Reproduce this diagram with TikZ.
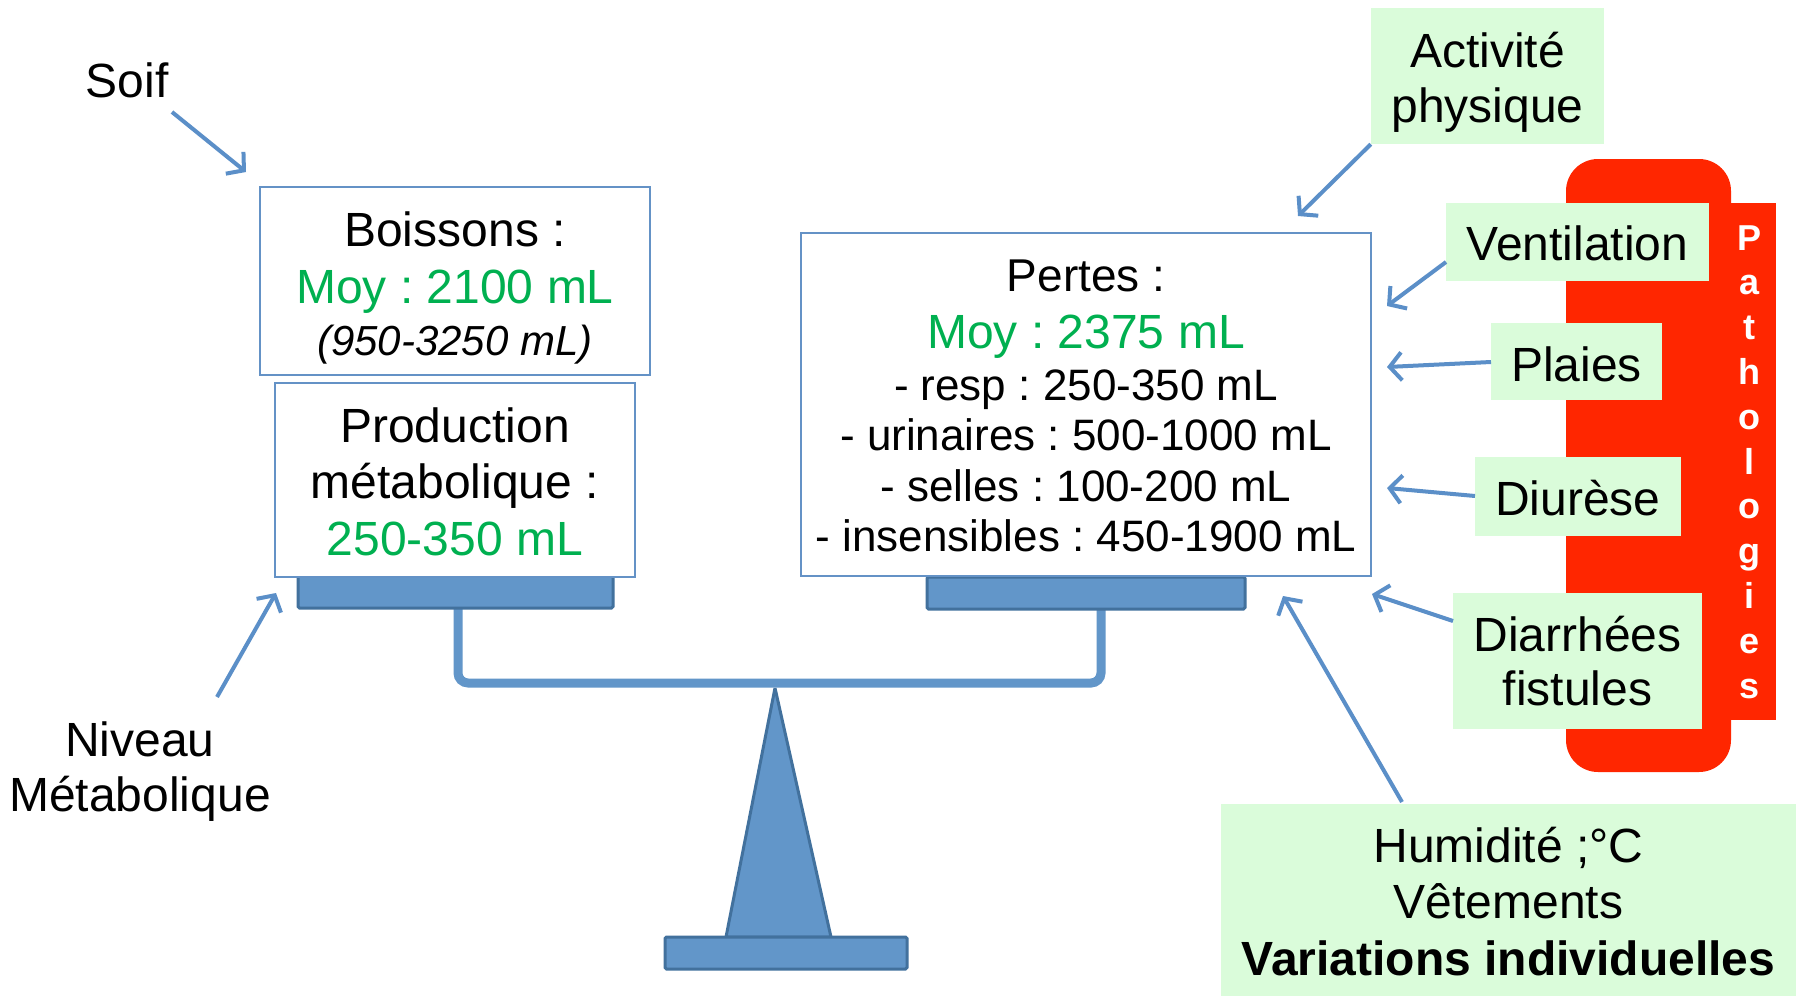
\documentclass[tikz,border=0pt]{standalone}
\usepackage{fontspec}
\setmainfont{Liberation Sans}
\usetikzlibrary{arrows.meta}
\definecolor{arrblue}{RGB}{91,143,200}
\definecolor{boxblue}{RGB}{100,146,198}
\definecolor{panfill}{RGB}{98,150,201}
\definecolor{pandraw}{RGB}{66,113,157}
\definecolor{lgreen}{RGB}{218,252,218}
\definecolor{tgreen}{RGB}{0,176,80}
\definecolor{pred}{RGB}{255,38,0}
\frenchspacing
\begin{document}
\begin{tikzpicture}[x=1pt,y=-1pt,
  box/.style={draw=boxblue,line width=1.8pt,fill=white,inner sep=0pt},
  gbox/.style={fill=lgreen,inner sep=0pt},
  redbox/.style={fill=pred,inner sep=0pt},
  pan/.style={fill=panfill,draw=pandraw,line width=3pt,inner sep=0pt,rounded corners=1.5pt},
  beam/.style={draw=panfill,line width=9pt,rounded corners=10pt},
  txt/.style={anchor=base,inner sep=0pt,font=\fontsize{48}{56}\selectfont},
  htxt/.style={anchor=base,inner sep=0pt,font=\fontsize{46}{52}\selectfont},
  stxt/.style={anchor=base,inner sep=0pt,font=\fontsize{44}{50}\selectfont},
  itxt/.style={anchor=base,inner sep=0pt,font=\fontsize{42}{50}\selectfont\itshape},
  ptxt/.style={anchor=base,inner sep=0pt,text=white,font=\fontsize{36}{40}\selectfont\bfseries},
  arr/.style={draw=arrblue,line width=4pt,-{Straight Barb[length=12pt,width=28pt]}}
]
\useasboundingbox (0,0) rectangle (1796,996);
\fill[white] (0,0) rectangle (1796,996);

% ---- balance ----
\draw[beam] (458,606) -- (458,683) -- (1101,683) -- (1101,606);
\draw[pan] (775,688) -- (831,937) -- (726,937) -- cycle;
\node[pan,minimum width=242pt,minimum height=32pt] (base) at (786,953) {};
\node[pan,minimum width=315pt,minimum height=32pt] (lpan) at (455.5,592) {};
\node[pan,minimum width=318pt,minimum height=32pt] (rpan) at (1086,593) {};

% ---- left boxes ----
\node[box,minimum width=390pt,minimum height=188pt] (boiss) at (455,281) {};
\node[txt] (b1) at (455,246) {Boissons :};
\node[txt,text=tgreen] (b2) at (455,303) {Moy : 2100 mL};
\node[itxt] (b3) at (455,355) {(950-3250 mL)};

\node[box,minimum width=360pt,minimum height=194pt] (prod) at (455,480) {};
\node[txt] (p1) at (455,442) {Production};
\node[txt] (p2) at (455,498) {métabolique :};
\node[txt,text=tgreen] (p3) at (455,555) {250-350 mL};

% ---- right box ----
\node[box,minimum width=570pt,minimum height=343pt] (pertes) at (1086,404.5) {};
\node[htxt] (r1) at (1086,291) {Pertes :};
\node[txt,text=tgreen] (r2) at (1086,348) {Moy : 2375 mL};
\node[stxt] (r3) at (1086,400) {- resp : 250-350 mL};
\node[stxt] (r4) at (1086,450.5) {- urinaires : 500-1000 mL};
\node[stxt] (r5) at (1086,501) {- selles : 100-200 mL};
\node[stxt] (r6) at (1086,551.5) {- insensibles : 450-1900 mL};

% ---- left labels ----
\node[txt] (soif) at (127,97) {Soif};
\node[txt] (niv1) at (140,756) {Niveau};
\node[txt] (niv2) at (140,811) {Métabolique};

% ---- pathologies ----
\node[redbox,rounded corners=32pt,minimum width=165pt,minimum height=613pt] (redr) at (1648.5,465.5) {};
\node[redbox,minimum width=66pt,minimum height=517pt] (reds) at (1743,461.5) {};
\foreach \l [count=\i from 0] in {P,a,t,h,o,l,o,g,i,e,s}
  \node[ptxt] (pl\i) at (1749,250+44.8*\i) {\l};

% ---- green boxes ----
\node[gbox,minimum width=233pt,minimum height=136pt] (act) at (1487.5,76) {};
\node[txt] (act1) at (1487.5,67) {Activité};
\node[txt] (act2) at (1487.5,122) {physique};

\node[gbox,minimum width=263pt,minimum height=78pt] (vent) at (1577.5,242) {};
\node[txt] (vent1) at (1577.5,260) {Ventilation};

\node[gbox,minimum width=171pt,minimum height=77pt] (plaies) at (1576.5,361.5) {};
\node[txt] (plaies1) at (1576.5,381) {Plaies};

\node[gbox,minimum width=206pt,minimum height=79pt] (diur) at (1578,496.5) {};
\node[txt] (diur1) at (1578,515) {Diurèse};

\node[gbox,minimum width=249pt,minimum height=136pt] (diar) at (1577.5,661) {};
\node[txt] (diar1) at (1577.5,651) {Diarrhées};
\node[txt] (diar2) at (1577.5,705) {fistules};

\node[gbox,minimum width=575pt,minimum height=192pt] (hum) at (1508.5,900) {};
\node[txt] (hum1) at (1508.5,862) {Humidité ;°C};
\node[txt] (hum2) at (1508.5,918) {Vêtements};
\node[txt,font=\fontsize{48}{56}\selectfont\bfseries] (hum3) at (1508.5,975) {Variations individuelles};

% ---- arrows ----
\coordinate (soifs) at (172,112);
\coordinate (soift) at (246,172);
\coordinate (nivs) at (217,697);
\coordinate (nivt) at (276,593);
\coordinate (actt) at (1298,216);
\coordinate (vents) at (1446,262);
\coordinate (ventt) at (1387,306);
\coordinate (plaiess) at (1491,362);
\coordinate (plaiest) at (1387,367);
\coordinate (diurs) at (1475,496);
\coordinate (diurt) at (1387,488);
\coordinate (diars) at (1453,621);
\coordinate (diart) at (1372,594);
\coordinate (hums) at (1402,802);
\coordinate (humt) at (1283,596);

\draw[arr] (soifs) -- (soift);
\draw[arr] (nivs) -- (nivt);
\draw[arr] (act.south west) -- (actt);
\draw[arr] (vents) -- (ventt);
\draw[arr] (plaiess) -- (plaiest);
\draw[arr] (diurs) -- (diurt);
\draw[arr] (diars) -- (diart);
\draw[arr] (hums) -- (humt);
\end{tikzpicture}
\end{document}
